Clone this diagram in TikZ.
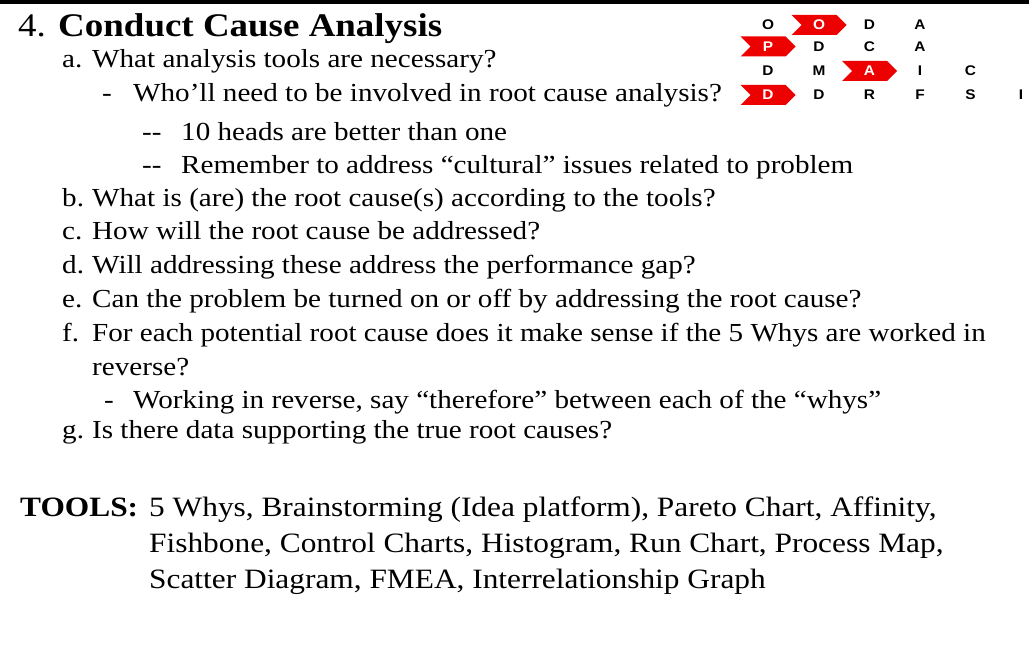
\documentclass[tikz,border=0pt]{standalone}
\usepackage{fontspec}
\setmainfont{Liberation Serif}[FakeStretch=1.12]
\newfontfamily\gridfont{Liberation Sans}[FakeStretch=1.1]
\usetikzlibrary{shapes.symbols}
\definecolor{chevred}{RGB}{237,0,0}
\newcommand{\lab}[2]{\makebox[#1][l]{#2}}

\begin{document}
\begin{tikzpicture}[
        x=1pt, y=-1pt,
        every node/.style={inner sep=0pt, anchor=base west},
        body/.style={font=\fontsize{26}{30}\selectfont},
        tools/.style={font=\fontsize{28}{34}\selectfont},
        letter/.style={anchor=center, font=\gridfont\bfseries\fontsize{14}{16}\selectfont},
        badge/.style={letter, shape=signal, signal to=east, signal from=west,
            fill=chevred, text=white, minimum width=55pt, minimum height=20pt}
        ]
        \useasboundingbox (0,0) rectangle (1029,650);
        \draw[line width=3.5pt] (0,2) -- (1029,2);

        \node[font=\fontsize{33}{40}\selectfont] (title) at (18,37) {4. \textbf{Conduct Cause Analysis}};

        \node[letter] (o1) at (768,25) {O};
        \node[badge]  (o2) at (819,25) {O};
        \node[letter] (d1) at (869.5,25) {D};
        \node[letter] (a1) at (920,25) {A};
        \node[badge]  (p2) at (768,46.5) {P};
        \node[letter] (d2) at (819,46.5) {D};
        \node[letter] (c2) at (869.5,46.5) {C};
        \node[letter] (a2) at (920,46.5) {A};
        \node[letter] (d3) at (768,71) {D};
        \node[letter] (m3) at (819,71) {M};
        \node[badge]  (a3) at (869.5,71) {A};
        \node[letter] (i3) at (920,71) {I};
        \node[letter] (c3) at (970.5,71) {C};
        \node[badge]  (d4) at (768,95) {D};
        \node[letter] (dd4) at (819,95) {D};
        \node[letter] (r4) at (869.5,95) {R};
        \node[letter] (f4) at (920,95) {F};
        \node[letter] (s4) at (970.5,95) {S};
        \node[letter] (i4) at (1021,95) {I};

        \node[body] (qa)  at (62,68)   {\lab{30pt}{a.}What analysis tools are necessary?};
        \node[body] (qa1) at (102,102) {\lab{31pt}{-}Who’ll need to be involved in root cause analysis?};
        \node[body] (qa2) at (142,141) {\lab{39pt}{-{}-}10 heads are better than one};
        \node[body] (qa3) at (142,174) {\lab{39pt}{-{}-}Remember to address “cultural” issues related to problem};
        \node[body] (qb)  at (62,207)  {\lab{30pt}{b.}What is (are) the root cause(s) according to the tools?};
        \node[body] (qc)  at (62,240)  {\lab{30pt}{c.}How will the root cause be addressed?};
        \node[body] (qd)  at (62,273)  {\lab{30pt}{d.}Will addressing these address the performance gap?};
        \node[body] (qe)  at (62,307)  {\lab{30pt}{e.}Can the problem be turned on or off by addressing the root cause?};
        \node[body] (qf)  at (62,341)  {\lab{30pt}{f.}For each potential root cause does it make sense if the 5 Whys are worked in};
        \node[body] (qfr) at (92,375)  {reverse?};
        \node[body] (qf1) at (104,408) {\lab{29pt}{-}Working in reverse, say “therefore” between each of the “whys”};
        \node[body] (qg)  at (62,438)  {\lab{30pt}{g.}Is there data supporting the true root causes?};

        \node[tools] (toollab) at (20,516)  {\bfseries TOOLS:};
        \node[tools] (tools1)  at (149,516) {5 Whys, Brainstorming (Idea platform), Pareto Chart, Affinity,};
        \node[tools] (tools2)  at (149,552) {Fishbone, Control Charts, Histogram, Run Chart, Process Map,};
        \node[tools] (tools3)  at (149,588) {Scatter Diagram, FMEA, Interrelationship Graph};
    \end{tikzpicture}
\end{document}
